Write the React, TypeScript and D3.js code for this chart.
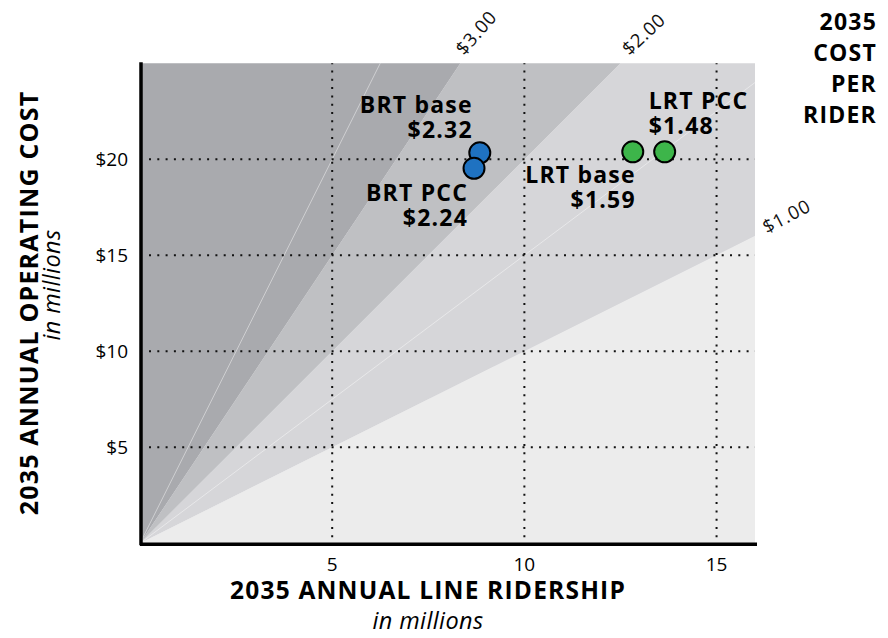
import React from 'react';
import * as d3 from 'd3';

// Scenario data (millions of riders / millions of dollars)
const scenarios = ['BRT base', 'BRT PCC', 'LRT base', 'LRT PCC'];
const ridership = [8.84, 8.69, 12.82, 13.65];
const opCost = [20.34, 19.53, 20.39, 20.39];
const costPerRider = ['$2.32', '$2.24', '$1.59', '$1.48'];
const mode = ['BRT', 'BRT', 'LRT', 'LRT'];

// cost-per-rider bands (slope of cost / ridership)
const bandSlopes = [0, 1, 2, 3, 1000];
const bandColors = ['#ececec', '#d6d6d9', '#bfc0c3', '#a9aaae'];
const thinSlopes = [1.5, 4];
const rateLabels = ['$1.00', '$2.00', '$3.00'];

const xTicks = [5, 10, 15];
const yTicks = [5, 10, 15, 20];

const W = 888;
const H = 638;
const FONT = '"Open Sans", "Noto Sans", sans-serif';

const App: React.FC = () => {
  const x = d3.scaleLinear().domain([0, 16]).range([140, 755]);
  const y = d3.scaleLinear().domain([0, 25]).range([543.3, 63.3]);
  const [x0, x1] = x.range();
  const [y0, y1] = y.range();

  const far = 200;
  const bands = bandColors.map((c, i) => {
    const s0 = bandSlopes[i];
    const s1 = bandSlopes[i + 1];
    const pts: [number, number][] = [
      [x(0), y(0)],
      [x(far), y(far * s0)],
      [x(far / s1), y(far)],
    ];
    return { c, d: d3.line()(pts) + 'Z' };
  });

  // label placements: [dx, dy, anchor]
  const labelPos: [number, number, string][] = [
    [-7, -40, 'end'],
    [-6, 33, 'end'],
    [3, 31, 'end'],
    [-16, -43, 'start'],
  ];

  // rate labels at the end of each line
  const rateLabelPos = rateLabels.map((t, i) => {
    const s = bandSlopes[i + 1];
    const xe = Math.min(16, 25 / s);
    return { t, px: x(xe), py: y(xe * s) };
  });
  const rateOffsets: [number, number, number][] = [
    [12, -2, -28],
    [9, -7, -43],
    [4, -7, -49],
  ];

  const dotted = { stroke: '#111', strokeWidth: 2, strokeDasharray: '2 6.3' };
  const bold = { fontWeight: 700, letterSpacing: 1.2 };

  return (
    <svg width={W} height={H} style={{ position: 'absolute', left: 0, top: 0, background: '#fff' }} fontFamily={FONT}>
      <defs>
        <clipPath id="plot">
          <rect x={x0} y={y1} width={x1 - x0} height={y0 - y1} />
        </clipPath>
      </defs>
      <g clipPath="url(#plot)">
        {bands.map((b, i) => (
          <path key={i} d={b.d} fill={b.c} />
        ))}
        {thinSlopes.map((s) => (
          <line key={s} x1={x(0)} y1={y(0)} x2={x(far)} y2={y(far * s)} stroke="#fff" strokeOpacity={0.55} strokeWidth={0.8} />
        ))}
      </g>

      {/* gridlines */}
      {xTicks.map((t) => (
        <line key={'gx' + t} x1={x(t)} x2={x(t)} y1={y0 - 6} y2={y1} {...dotted} />
      ))}
      {yTicks.map((t) => (
        <line key={'gy' + t} x1={x0 + 9} x2={x1} y1={y(t)} y2={y(t)} {...dotted} />
      ))}

      {/* axes */}
      <line x1={x0 + 1} x2={x0 + 1} y1={y1 - 1} y2={y0 + 2} stroke="#000" strokeWidth={3.5} />
      <line x1={x0} x2={x1 + 2} y1={y0 + 1} y2={y0 + 1} stroke="#000" strokeWidth={3.5} />

      {xTicks.map((t) => (
        <text key={'tx' + t} x={x(t)} y={571} textAnchor="middle" fontSize={19} fill="#000">
          {t}
        </text>
      ))}
      {yTicks.map((t) => (
        <text key={'ty' + t} x={128} y={y(t)} dy="0.36em" textAnchor="end" fontSize={19} fill="#000">
          {'$' + t}
        </text>
      ))}

      {/* rate labels */}
      {rateLabelPos.map((r, i) => (
        <text
          key={r.t}
          transform={`translate(${r.px + rateOffsets[i][0]},${r.py + rateOffsets[i][1]}) rotate(${rateOffsets[i][2]})`}
          fontSize={18.5}
          letterSpacing={0.8}
          fill="#111"
        >
          {r.t}
        </text>
      ))}

      {/* points */}
      {scenarios.map((s, i) => (
        <circle
          key={s}
          cx={x(ridership[i])}
          cy={y(opCost[i])}
          r={10.5}
          fill={mode[i] === 'BRT' ? '#1f72c1' : '#3db54a'}
          stroke="#000"
          strokeWidth={2}
        />
      ))}
      {scenarios.map((s, i) => (
        <text
          key={'l' + s}
          x={x(ridership[i]) + labelPos[i][0]}
          y={y(opCost[i]) + labelPos[i][1]}
          textAnchor={labelPos[i][2] as any}
          fontSize={23}
          {...bold}
          fill="#000"
        >
          <tspan>{s}</tspan>
          <tspan x={x(ridership[i]) + labelPos[i][0]} dy={25}>
            {costPerRider[i]}
          </tspan>
        </text>
      ))}

      {/* legend title */}
      <text x={877} y={30} textAnchor="end" fontSize={23} {...bold}>
        {['2035', 'COST', 'PER', 'RIDER'].map((t, i) => (
          <tspan key={t} x={877} dy={i === 0 ? 0 : 31}>
            {t}
          </tspan>
        ))}
      </text>

      {/* axis titles */}
      <text x={428} y={599} textAnchor="middle" fontSize={24.5} {...bold}>
        2035 ANNUAL LINE RIDERSHIP
      </text>
      <text x={428} y={629} textAnchor="middle" fontSize={23.5} fontStyle="italic" letterSpacing={0.4} fill="#000">
        in millions
      </text>
      <text transform="translate(38,303) rotate(-90)" textAnchor="middle" fontSize={25} {...bold}>
        2035 ANNUAL OPERATING COST
      </text>
      <text transform="translate(60,285) rotate(-90)" textAnchor="middle" fontSize={23.5} fontStyle="italic" letterSpacing={0.4} fill="#000">
        in millions
      </text>
    </svg>
  );
};

export default App;
